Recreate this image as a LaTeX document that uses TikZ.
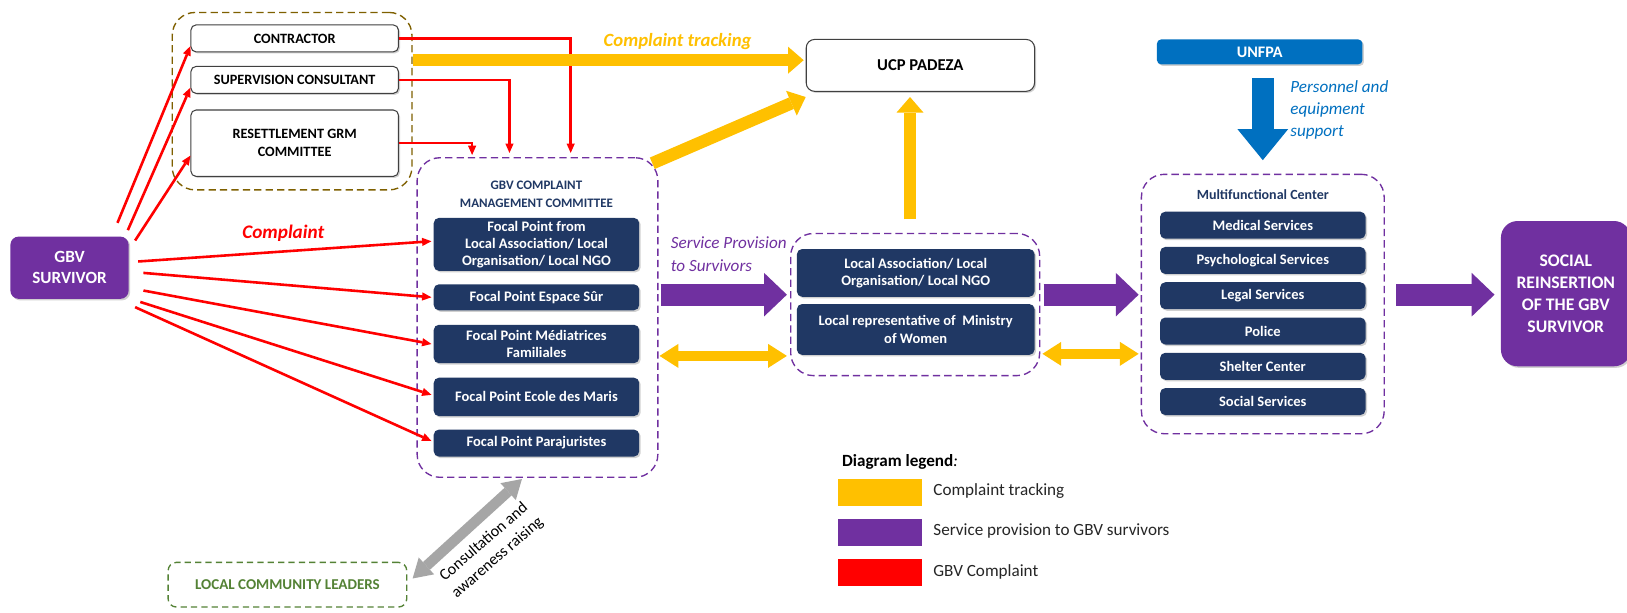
\documentclass[tikz,border=0pt]{standalone}
\usepackage{fontspec}
\setmainfont{Carlito}
\usetikzlibrary{arrows.meta,calc,shadows}

\definecolor{gbvpurple}{HTML}{7030A0}
\definecolor{gbvnavy}{HTML}{203864}
\definecolor{gbvyellow}{HTML}{FFC000}
\definecolor{gbvred}{HTML}{FF0000}
\definecolor{gbvblue}{HTML}{0070C0}
\definecolor{gbvgreen}{HTML}{548235}
\definecolor{gbvbrown}{HTML}{7F6000}
\definecolor{gbvgrey}{HTML}{A6A6A6}

\begin{document}
\begin{tikzpicture}[x=1pt,y=-1pt,
    boxshadow/.style={drop shadow={shadow xshift=1.5pt, shadow yshift=-1.5pt, opacity=0.3, fill=black!60}},
    navybox/.style={fill=gbvnavy, text=white, rounded corners=5pt, align=center, inner sep=0pt, boxshadow,
        minimum width=198pt, font=\bfseries\fontsize{14}{16.5}\selectfont},
    whitebox/.style={draw=black!75, line width=1pt, fill=white, rounded corners=5pt, align=center, boxshadow,
        inner sep=0pt, minimum width=200pt, font=\bfseries\fontsize{13.7}{17}\selectfont},
    groupbox/.style={dashed, dash pattern=on 7pt off 4pt, line width=1.3pt, rounded corners=22pt, inner sep=0pt},
    complaint/.style={draw=gbvred, line width=2.5pt, -{Triangle[length=9pt,width=8pt,line width=0pt]}},
    tracking/.style={draw=gbvyellow, line width=12pt, -{Triangle[length=15pt,width=26pt,line width=0pt]}},
    service/.style={draw=gbvpurple, line width=21pt, -{Triangle[length=22pt,width=42pt,line width=0pt]}},
    exchange/.style={draw=gbvyellow, line width=9pt,
        {Triangle[length=18pt,width=23pt,line width=0pt]}-{Triangle[length=18pt,width=23pt,line width=0pt]}},
    support/.style={draw=gbvblue, line width=21pt, -{Triangle[length=30pt,width=49pt,line width=0pt]}},
    consult/.style={draw=gbvgrey, line width=10pt,
        {Triangle[length=18pt,width=22pt,line width=0pt]}-{Triangle[length=18pt,width=22pt,line width=0pt]}},
    legendtxt/.style={anchor=west, text=black!85, font=\fontsize{16.5}{19}\selectfont},
    ]
    \fill[white] (0,0) rectangle (1568,590);
    \useasboundingbox (0,0) rectangle (1568,590);

    % contractor side
    \node[groupbox, draw=gbvbrown, minimum width=231pt, minimum height=171pt] (grmgroup) at (281.5,97.5) {};
    \node[whitebox, minimum height=26pt] (contractor) at (284,37) {CONTRACTOR};
    \node[whitebox, minimum height=26pt] (supervision) at (284,77) {SUPERVISION CONSULTANT};
    \node[whitebox, minimum height=64pt] (resettlement) at (284,138) {RESETTLEMENT GRM\\COMMITTEE};

    \node[fill=gbvpurple, text=white, rounded corners=8pt, align=center, minimum width=114pt, minimum height=60pt, boxshadow,
        font=\bfseries\fontsize{16.5}{20}\selectfont] (survivor) at (67,258) {GBV\\SURVIVOR};

    % complaint committee
    \node[groupbox, draw=gbvpurple, minimum width=232pt, minimum height=308pt] (committee) at (518,306) {};
    \node[text=gbvnavy, align=center, font=\bfseries\fontsize{12.5}{17}\selectfont] (cmttitle) at (517,187) {GBV COMPLAINT\\MANAGEMENT COMMITTEE};
    \node[navybox, minimum height=51pt] (fplocal) at (517,235.5) {Focal Point from\\Local Association/ Local\\Organisation/ Local NGO};
    \node[navybox, minimum height=25pt] (fpsur) at (517,286.5) {Focal Point Espace Sûr};
    \node[navybox, minimum height=37pt] (fpmed) at (517,331.5) {Focal Point Médiatrices\\Familiales};
    \node[navybox, minimum height=37pt] (fpecole) at (517,382.5) {Focal Point Ecole des Maris};
    \node[navybox, minimum height=26pt] (fppara) at (517,427) {Focal Point Parajuristes};

    \node[whitebox, minimum width=220pt, minimum height=50pt, rounded corners=8pt,
        font=\bfseries\fontsize{16}{19}\selectfont] (ucp) at (887,63) {UCP PADEZA};

    % local level
    \node[groupbox, draw=gbvpurple, minimum width=240pt, minimum height=137pt] (localgroup) at (882,293.5) {};
    \node[navybox, minimum width=229pt, minimum height=46pt] (localngo) at (882.5,263) {Local Association/ Local\\Organisation/ Local NGO};
    \node[navybox, minimum width=229pt, minimum height=49pt] (ministry) at (882.5,317.5) {Local representative of\ \ Ministry\\of Women};

    % multifunctional center
    \node[groupbox, draw=gbvpurple, minimum width=234pt, minimum height=250pt] (mfcgroup) at (1217,293) {};
    \node[text=gbvnavy, font=\bfseries\fontsize{13.5}{16}\selectfont] (mfctitle) at (1217,188) {Multifunctional Center};
    \node[navybox, minimum height=26pt] (medical) at (1217,217) {Medical Services};
    \node[navybox, minimum height=26pt] (psycho) at (1217,251) {Psychological Services};
    \node[navybox, minimum height=26pt] (legal) at (1217,285) {Legal Services};
    \node[navybox, minimum height=26pt] (police) at (1217,319) {Police};
    \node[navybox, minimum height=26pt] (shelter) at (1217,353) {Shelter Center};
    \node[navybox, minimum height=26pt] (social) at (1217,387) {Social Services};

    \node[fill=gbvblue, text=white, rounded corners=4pt, minimum width=198pt, minimum height=24pt, boxshadow,
        font=\bfseries\fontsize{15.5}{17}\selectfont] (unfpa) at (1214,50) {UNFPA};
    \node[fill=gbvpurple, text=white, rounded corners=16pt, align=center, minimum width=125pt, minimum height=140pt, boxshadow,
        font=\bfseries\fontsize{17}{21}\selectfont] (reinsertion) at (1509,283) {SOCIAL\\REINSERTION\\OF THE GBV\\SURVIVOR};

    \node[draw=gbvgreen, dashed, dash pattern=on 6pt off 4pt, line width=1.3pt, rounded corners=8pt,
        minimum width=230pt, minimum height=43pt, text=gbvgreen,
        font=\bfseries\fontsize{14.5}{17}\selectfont] (leaders) at (277,563.5) {LOCAL COMMUNITY LEADERS};

    % complaints
    \draw[complaint] (contractor.east) -| ($(committee.north)+(32,-4)$);
    \draw[complaint] (supervision.east) -| ($(committee.north)+(-27,-4)$);
    \draw[complaint] (resettlement.east) -| ($(committee.north)+(-63,-2)$);
    \draw[complaint] ($(survivor.north east)+(-11,-13)$) -- ($(contractor.south west)+(0,-6)$);
    \draw[complaint] ($(survivor.north east)+(-1,-6)$) -- ($(supervision.south west)+(0,-6)$);
    \draw[complaint] ($(survivor.north east)+(6,4)$) -- ($(resettlement.west)+(0,12)$);
    \draw[complaint] ($(survivor.east)+(9,-6)$) -- ($(fplocal.west)+(-2,-3)$);
    \draw[complaint] ($(survivor.east)+(14,5)$) -- ($(fpsur.west)+(-2,0)$);
    \draw[complaint] ($(survivor.east)+(14,22)$) -- ($(fpmed.west)+(-2,0)$);
    \draw[complaint] ($(survivor.east)+(11,33)$) -- ($(fpecole.west)+(-2,-2)$);
    \draw[complaint] ($(survivor.east)+(6,38)$) -- ($(fppara.west)+(-2,-2)$);
    \node[text=gbvred, font=\bfseries\itshape\fontsize{18.5}{20}\selectfont] (complaintlbl) at (273,225) {Complaint};

    % tracking
    \draw[tracking] ($(grmgroup.east)+(0,-39.5)$) -- ($(ucp.west)+(-2,-5)$);
    \draw[tracking] ($(committee.north east)+(-6,6)$) -- ($(ucp.south west)+(0,5)$);
    \draw[tracking] ($(localgroup.north)+(-5,-13)$) -- ($(ucp.south)+(-10,5)$);
    \node[text=gbvyellow, font=\bfseries\itshape\fontsize{18}{20}\selectfont] (trackinglbl) at (653,40) {Complaint tracking};

    % services
    \draw[service] ($(committee.east)+(2,-22)$) -- ($(localgroup.west)+(-3,-9.5)$);
    \draw[service] ($(localgroup.east)+(3,-9.5)$) -- ($(mfcgroup.west)+(-2,-9)$);
    \draw[service] ($(mfcgroup.east)+(11,-9)$) -- ($(reinsertion.west)+(-6,1)$);
    \node[text=gbvpurple, align=left, anchor=west, font=\itshape\fontsize{16.5}{22}\selectfont] (servicelbl) at (643,245) {Service Provision\\to Survivors};
    \draw[exchange] ($(committee.east)+(1,37)$) -- ($(localgroup.west)+(-3,49.5)$);
    \draw[exchange] ($(localgroup.east)+(2,47.5)$) -- ($(mfcgroup.west)+(-2,48)$);

    \draw[support] ($(unfpa.south)+(3,13)$) -- ($(mfcgroup.north)+(0,-13)$);
    \node[text=gbvblue, align=left, anchor=west, font=\itshape\fontsize{16.5}{21}\selectfont] (supportlbl) at (1240,106) {Personnel and\\equipment\\support};

    \draw[consult] ($(leaders.east)+(5,-6)$) -- ($(committee.south)+(-15,1)$);
    \node[rotate=41, align=center, font=\fontsize{15.5}{20}\selectfont] (consultlbl) at (473,530) {Consultation and\\awareness raising};

    % legend
    \node[anchor=west, font=\fontsize{16.5}{19}\selectfont] (legendtitle) at (808,445) {\textbf{Diagram legend}\textit{:}};
    \node[fill=gbvyellow, minimum width=81pt, minimum height=26pt, inner sep=0pt] (keytrack) at (848.5,475) {};
    \node[fill=gbvpurple, minimum width=81pt, minimum height=26pt, inner sep=0pt] (keyservice) at (848.5,513.5) {};
    \node[fill=gbvred, minimum width=81pt, minimum height=26pt, inner sep=0pt] (keycomplaint) at (848.5,552) {};
    \node[legendtxt] (keytracktxt) at (896,473) {Complaint tracking};
    \node[legendtxt] (keyservicetxt) at (896,512) {Service provision to GBV survivors};
    \node[legendtxt] (keycomplainttxt) at (896,551) {GBV Complaint};
\end{tikzpicture}
\end{document}
